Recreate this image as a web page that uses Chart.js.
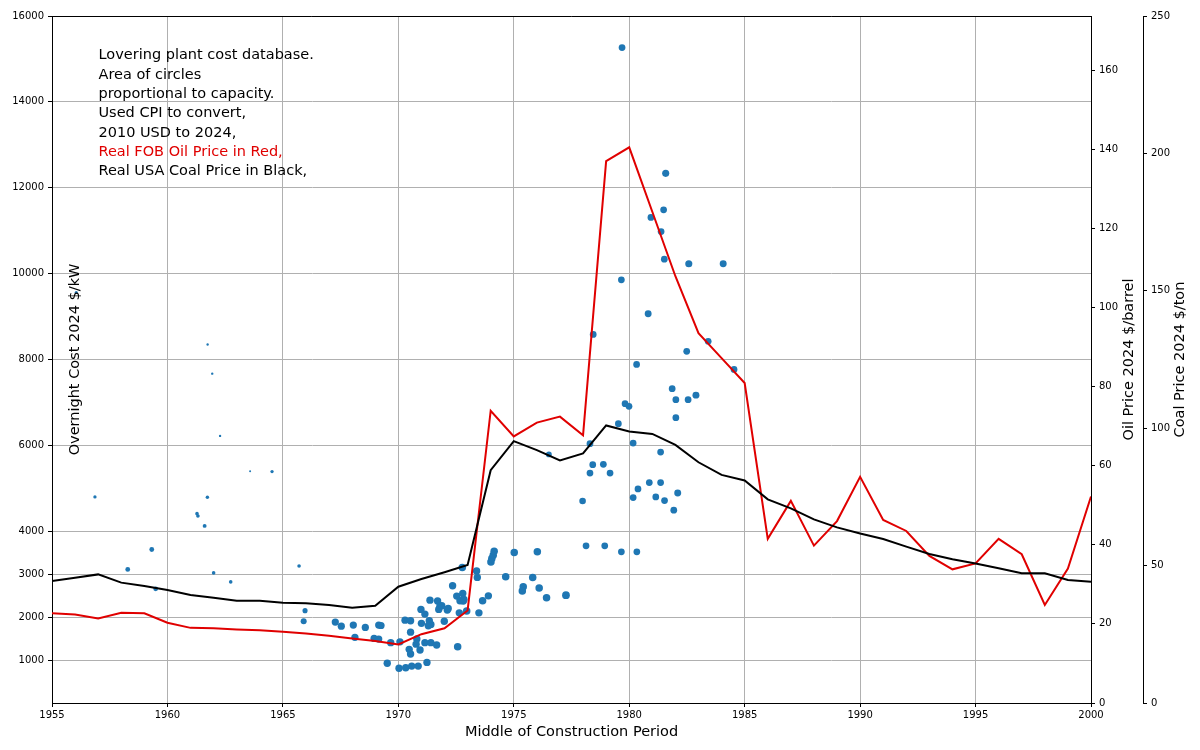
<!DOCTYPE html>
<html><head><meta charset="utf-8">
<script src="https://cdn.jsdelivr.net/npm/chart.js@4"></script>
<style>html,body{margin:0;padding:0;background:#fff;}#wrap{width:1200px;height:750px;}</style>
</head><body><div id="wrap"><canvas id="c" width="1200" height="750"></canvas></div>
<script>
// ---- data ----
const lineYears = [1955,1956,1957,1958,1959,1960,1961,1962,1963,1964,1965,1966,1967,1968,1969,1970,1971,1972,1973,1974,1975,1976,1977,1978,1979,1980,1981,1982,1983,1984,1985,1986,1987,1988,1989,1990,1991,1992,1993,1994,1995,1996,1997,1998,1999,2000];
const oilPrice = [22.7,22.4,21.4,22.8,22.7,20.3,19.0,18.9,18.6,18.4,18.0,17.6,17.0,16.3,15.7,14.8,17.4,18.9,23.4,73.9,67.4,70.9,72.4,67.7,137.0,140.5,124.2,107.9,93.5,87.2,80.9,41.5,51.1,39.8,46.0,57.2,46.3,43.5,37.2,33.8,35.3,41.5,37.6,24.8,34.0,52.2];
const coalPrice = [44.4,45.6,46.8,43.8,42.6,41.1,39.3,38.3,37.2,37.2,36.5,36.3,35.7,34.7,35.4,42.3,45.1,47.6,50.2,84.7,95.3,92.0,88.3,90.8,101.0,98.8,97.9,93.9,87.6,83.0,81.0,74.1,70.8,66.8,63.9,61.7,59.7,56.9,54.2,52.3,50.8,49.0,47.2,47.2,44.8,44.1];

const plantYears = [1956.05,1956.86,1958.28,1959.32,1959.49,1961.28,1961.32,1961.61,1961.73,1961.74,1961.94,1962.28,1962.00,1962.74,1963.58,1964.53,1965.70,1965.96,1965.90,
1967.27,1967.53,1968.05,1968.12,1968.57,1968.95,1969.15,1969.15,1969.25,1969.52,1969.67,1970.07,1970.03,1970.32,1970.58,1970.86,1971.24,1970.29,1970.53,1970.53,1970.47,1970.53,1970.80,1970.77,1970.94,1971.15,1971.41,1971.66,1970.98,1971.15,1971.00,1971.34,1971.41,1971.30,1971.37,1971.70,1971.80,1971.75,1971.88,1972.12,1972.16,1971.99,1972.57,1972.35,1972.53,1972.67,1972.81,1972.79,1972.84,1972.64,1972.96,1972.77,1973.39,1973.42,1973.49,1973.65,1973.90,1974.01,1974.05,1974.11,1974.15,1974.65,1975.02,1976.02,1975.82,1975.41,1975.37,1976.10,1976.42,1977.26,
1976.52,1977.98,1978.13,1978.94,1979.66,1980.33,1978.30,1978.42,1978.88,1978.30,1979.17,1979.53,1979.82,1979.99,1980.17,1980.17,1980.38,1978.44,1979.66,1979.69,1980.32,1980.82,1980.87,1981.36,1981.36,1981.15,1981.53,1981.93,1982.10,1981.86,1982.02,1982.55,1982.89,1982.02,1982.49,1983.42,1984.54,1980.94,1981.38,1981.49,1981.58,1981.52,1982.58,1984.07];
const plantCosts = [9560,4800,3110,3575,2660,4410,4355,4125,4790,8350,7670,6220,3030,2820,5400,5390,3190,2150,1905,
1885,1790,1815,1530,1760,1505,1490,1815,1805,925,1405,1425,808,820,860,860,945,1930,1915,1650,1250,1140,1490,1370,1235,1405,1405,1350,2180,2070,1855,1915,1830,1800,2395,2375,2255,2180,2265,2165,2200,1905,1310,2730,2490,2380,2375,2550,2410,2100,2140,3155,3075,2925,2100,2380,2495,3285,3365,3440,3535,2940,3505,3520,2925,2705,2610,2680,2450,2510,
5790,4705,3660,3660,3520,3520,6040,5550,5560,5355,5355,6505,6970,6910,6055,4785,4985,8585,9855,15265,7885,9065,5135,5135,5845,4800,4715,4490,4890,7320,7065,7065,7170,6645,8190,8425,7770,11310,10980,11485,12335,10335,10230,10230];
const plantCapacity = [100,110,230,230,230,130,130,150,120,55,55,55,130,130,40,110,130,260,360,
520,520,520,520,520,520,520,520,520,540,540,540,540,540,540,540,540,540,540,540,540,540,540,540,540,540,540,540,540,540,540,540,540,540,540,540,540,540,540,540,540,540,560,540,540,540,560,540,560,540,560,560,540,540,540,560,540,560,560,560,560,560,560,560,560,560,560,560,560,600,
330,430,450,450,450,450,450,450,450,450,450,450,450,450,450,450,450,450,450,450,450,470,450,450,450,450,450,450,480,450,450,450,480,450,450,450,450,450,450,450,500,450,500,480];

const xTicks = [1955,1960,1965,1970,1975,1980,1985,1990,1995,2000];
const costTicks = [1000,2000,3000,4000,6000,8000,10000,12000,14000,16000];
const oilTicks = [0,20,40,60,80,100,120,140,160];
const coalTicks = [0,50,100,150,200,250];

const xTitle = 'Middle of Construction Period';
const costTitle = 'Overnight Cost 2024 $/kW';
const oilTitle = 'Oil Price 2024 $/barrel';
const coalTitle = 'Coal Price 2024 $/ton';
const noteLines = ['Lovering plant cost database.','Area of circles','proportional to capacity.','Used CPI to convert,','2010 USD to 2024,','Real FOB Oil Price in Red,','Real USA Coal Price in Black,'];
const redNoteLine = 5;

// ---- chart ----
const FONT = "'DejaVu Sans', sans-serif";
Chart.defaults.font.family = FONT;
Chart.defaults.font.size = 10;
Chart.defaults.color = '#000';

const fixedTicks = arr => (s => { s.ticks = arr.map(v => ({value: v})); });

const overlay = {
  id: 'overlay',
  afterDraw(chart) {
    const ctx = chart.ctx, a = chart.chartArea;
    ctx.save();
    ctx.strokeStyle = '#000'; ctx.lineWidth = 1;
    ctx.beginPath(); ctx.moveTo(a.left, a.top + 0.5); ctx.lineTo(a.right, a.top + 0.5); ctx.stroke();
    ctx.font = "14.5px " + FONT;
    ctx.fillStyle = '#000';
    ctx.textAlign = 'left'; ctx.textBaseline = 'alphabetic';
    noteLines.forEach((t, i) => {
      ctx.fillStyle = i === redNoteLine ? '#e00000' : '#000';
      ctx.fillText(t, 98.5, 59.3 + i * 19.3);
    });
    ctx.fillStyle = '#000';
    ctx.textAlign = 'center';
    ctx.fillText(xTitle, (a.left + a.right) / 2, 736);
    const mid = (a.top + a.bottom) / 2;
    const rot = (txt, x) => {
      ctx.save(); ctx.translate(x, mid); ctx.rotate(-Math.PI / 2);
      ctx.textAlign = 'center'; ctx.textBaseline = 'middle';
      ctx.fillText(txt, 0, 0); ctx.restore();
    };
    rot(costTitle, 75);
    rot(oilTitle, 1129);
    rot(coalTitle, 1180);
    ctx.restore();
  }
};

new Chart(document.getElementById('c'), {
  type: 'scatter',
  data: {
    datasets: [
      {label: 'Coal', data: lineYears.map((x, i) => ({x, y: coalPrice[i]})), yAxisID: 'yCoal', showLine: true,
       borderColor: '#000', borderWidth: 2, pointRadius: 0, tension: 0, fill: false},
      {label: 'Oil', data: lineYears.map((x, i) => ({x, y: oilPrice[i]})), yAxisID: 'yOil', showLine: true,
       borderColor: '#e00000', borderWidth: 2, pointRadius: 0, tension: 0, fill: false},
      {label: 'Plants', data: plantYears.map((x, i) => ({x, y: plantCosts[i]})), yAxisID: 'y',
       backgroundColor: '#1f77b4', borderWidth: 0,
       pointRadius: c => Math.sqrt(plantCapacity[c.dataIndex] || 0) / 6.3}
    ]
  },
  options: {
    responsive: false, animation: false, devicePixelRatio: 1,
    layout: {padding: {top: 16, left: 0, right: 0, bottom: 0}},
    plugins: {legend: {display: false}, tooltip: {enabled: false}},
    scales: {
      x: {type: 'linear', position: 'bottom', min: 1955, max: 2000,
          afterBuildTicks: fixedTicks(xTicks),
          ticks: {callback: v => String(v), padding: 2, maxRotation: 0, autoSkip: false},
          grid: {color: '#b0b0b0', tickColor: '#000', tickLength: 4, lineWidth: 1},
          border: {color: '#000', width: 1},
          afterFit: s => { s.height = 47; }},
      y: {type: 'linear', position: 'left', min: 0, max: 16000,
          afterBuildTicks: fixedTicks(costTicks),
          ticks: {callback: v => String(v), padding: 4, autoSkip: false},
          grid: {color: '#b0b0b0', tickColor: '#000', tickLength: 4, lineWidth: 1},
          border: {color: '#000', width: 1},
          afterFit: s => { s.width = 52; }},
      yOil: {type: 'linear', position: 'right', min: 0, max: 173.7, weight: 0,
          afterBuildTicks: fixedTicks(oilTicks),
          ticks: {callback: v => String(v), padding: 4, autoSkip: false},
          grid: {drawOnChartArea: false, color: '#000', tickColor: '#000', tickLength: 4},
          border: {color: '#000', width: 1},
          afterFit: s => { s.width = 52; }},
      yCoal: {type: 'linear', position: 'right', min: 0, max: 250, weight: 1,
          afterBuildTicks: fixedTicks(coalTicks),
          ticks: {callback: v => String(v), padding: 4, autoSkip: false},
          grid: {drawOnChartArea: false, color: '#000', tickColor: '#000', tickLength: 4},
          border: {color: '#000', width: 1},
          afterFit: s => { s.width = 57; }}
    }
  },
  plugins: [overlay]
});
</script>
</body></html>
